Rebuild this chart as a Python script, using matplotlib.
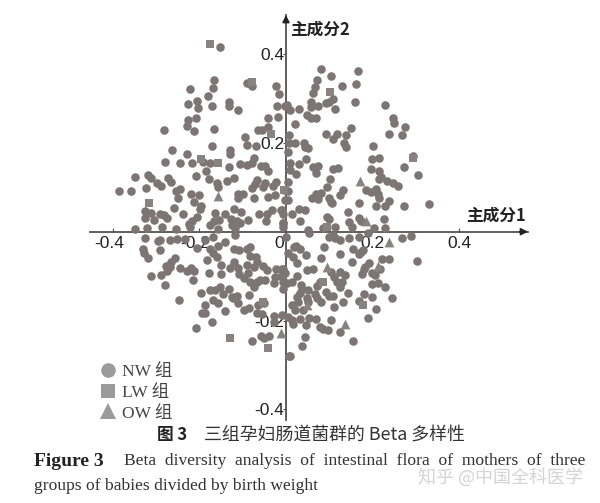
import numpy as np
import matplotlib
matplotlib.use("Agg")
import matplotlib.pyplot as plt
from matplotlib.transforms import ScaledTranslation

# Values are (component 1, component 2)
nw_upper_left = [(-.152,.415),(-.166,.341),(-.221,.322),(-.169,.323),(-.180,.305),(-.227,.287),(-.205,.295),(-.203,.278),(-.172,.284),
(-.131,.293),(-.131,.284),(-.112,.274),(-.089,.334),(-.078,.328),(-.024,.329),(-.016,.309),(-.020,.284),(-.002,.284),(-.018,.259),
(-.042,.256),(-.208,.256),(-.226,.251),(-.229,.238),(-.213,.227),(-.283,.228),(-.167,.231),(-.064,.230),(-.055,.229),(-.041,.236),
(-.095,.214),(-.089,.196),(-.070,.193),(-.170,.194),(-.129,.185),(-.130,.174),(-.264,.183),(-.229,.174),(-.279,.158),(-.244,.155),
(-.218,.155),(-.191,.158),(-.175,.154),(-.184,.137),(-.131,.146),(-.106,.152),(-.089,.151),(-.075,.165),(-.079,.154),(-.057,.147),
(-.048,.148),(-.042,.137),(-.350,.123),(-.320,.127),(-.312,.122),(-.272,.121),(-.265,.112),(-.209,.125),(-.177,.119),(-.121,.121),
(-.136,.114),(-.159,.110),(-.158,.101),(-.297,.110),(-.289,.104),(-.387,.091),(-.358,.091),(-.323,.098),(-.246,.097),(-.254,.091),
(-.250,.075),(-.220,.085),(-.200,.083),(-.212,.067),(-.196,.059),(-.199,.052),(-.259,.054),(-.237,.040),(-.112,.086),(-.099,.086),
(-.110,.075),(-.073,.077),(-.079,.098),(-.067,.117),(-.072,.107),(-.049,.110),(-.054,.101),(-.031,.104),(-.024,.112),(-.025,.082),
(-.042,.078),(-.005,.095),(-.002,.071),(-.326,.047),(-.312,.043),(-.326,.032),(-.305,.026),(-.291,.040),(-.282,.037),(-.275,.031),
(-.164,.043),(-.141,.039),(-.119,.051),(-.105,.044),(-.206,.033),(-.218,.023),(-.223,.017),(-.175,.015),(-.167,.023),(-.154,.026),
(-.128,.028),(-.114,.023),(-.106,.019),(-.125,.015),(-.087,.026),(-.062,.039),(-.043,.041),(-.033,.048),(-.012,.050),(-.008,.039),
(-.045,.023),(-.008,.020),(-.006,.011),(-.350,.007),(-.322,.009),(-.287,.010),(-.254,.005),(-.222,.010),(-.156,.005),(-.118,.008)]
nw_upper_right = [(.082,.367),(.104,.351),(.166,.363),(.071,.341),(.129,.328),(.163,.332),(.066,.325),(.062,.313),(.109,.299),(.159,.293),
(.230,.286),(.058,.293),(.057,.280),(.073,.284),(.092,.289),(.100,.292),(.114,.276),(.003,.285),(.009,.273),(.031,.277),(.049,.262),
(.058,.256),(.069,.255),(.022,.242),(.248,.257),(.250,.244),(.275,.236),(.151,.233),(.239,.220),(.269,.218),(.092,.219),(.117,.221),
(.109,.208),(.138,.218),(.135,.199),(.139,.191),(.202,.193),(.006,.217),(.006,.199),(.022,.200),(.042,.200),(.045,.191),(.052,.189),
(.005,.180),(.047,.164),(.198,.164),(.216,.167),(.293,.171),(.009,.154),(.029,.152),(.063,.146),(.074,.149),(.009,.139),(.023,.131),
(.069,.133),(.108,.142),(.120,.143),(.196,.141),(.273,.145),(.306,.128),(.216,.136),(.219,.124),(.216,.118),(.234,.115),(.248,.109),
(.259,.104),(.102,.119),(.005,.112),(.095,.101),(.132,.094),(.186,.095),(.196,.089),(.209,.096),(.212,.085),(.214,.077),(.125,.082),
(.080,.088),(.069,.086),(.061,.077),(.075,.074),(.099,.077),(.104,.068),(.107,.064),(.005,.092),(.005,.071),(.168,.064),(.238,.070),
(.229,.058),(.207,.058),(.273,.057),(.331,.062),(.031,.052),(.045,.050),(.013,.040),(-.010,.049),(.143,.045),(.032,.023),(.100,.029),
(.094,.033),(.146,.022),(.169,.032),(.173,.025),(.226,.028),(-.006,.020),(.114,.010),(.152,.011),(.204,.008),(.229,.008),(.052,.004),(.086,.008)]
nw_lower_left = [(-.326,-.014),(-.291,-.019),(-.295,-.021),(-.268,-.018),(-.251,-.017),(-.233,-.017),(-.331,-.040),(-.328,-.049),(-.318,-.059),
(-.292,-.041),(-.205,-.036),(-.187,-.019),(-.156,-.032),(-.141,-.023),(-.168,-.011),(-.118,-.008),(-.120,-.040),(-.109,-.042),(-.083,-.034),
(-.089,-.038),(-.176,-.038),(-.168,-.049),(-.159,-.058),(-.183,-.063),(-.256,-.060),(-.266,-.069),(-.277,-.077),(-.268,-.080),(-.274,-.089),
(-.290,-.098),(-.313,-.099),(-.280,-.119),(-.244,-.082),(-.229,-.088),(-.219,-.081),(-.213,-.089),(-.214,-.109),(-.179,-.092),(-.151,-.074),
(-.151,-.095),(-.121,-.068),(-.129,-.081),(-.110,-.081),(-.109,-.096),(-.097,-.105),(-.089,-.075),(-.082,-.054),(-.070,-.056),(-.066,-.068),
(-.075,-.079),(-.087,-.094),(-.082,-.113),(-.075,-.124),(-.068,-.113),(-.059,-.109),(-.048,-.109),(-.052,-.077),(-.043,-.086),(-.022,-.083),
(-.010,-.084),(-.025,-.101),(-.028,-.116),(-.010,-.098),(-.008,-.129),(.002,-.116),(-.196,-.139),(-.175,-.131),(-.164,-.131),(-.152,-.124),
(-.132,-.128),(-.247,-.153),(-.146,-.141),(-.168,-.154),(-.158,-.161),(-.125,-.146),(-.114,-.144),(-.122,-.149),(-.110,-.161),(-.085,-.143),
(-.188,-.165),(-.195,-.182),(-.187,-.182),(-.141,-.179),(-.098,-.176),(-.085,-.171),(-.064,-.164),(-.051,-.161),(-.068,-.182),(-.056,-.186),
(-.171,-.203),(-.208,-.216),(-.027,-.189),(-.010,-.188),(-.027,-.203),(-.058,-.234),(-.051,-.240),(-.039,-.235),(-.078,-.246),(.006,-.279)]
nw_lower_right = [(0,-.011),(.053,-.002),(.100,-.011),(.109,-.008),(.113,-.015),(.126,-.018),(.146,-.014),(.169,-.011),(.189,-.004),(.268,-.014),
(.290,-.009),(.023,-.032),(.032,-.039),(.018,-.034),(.088,-.034),(.155,-.039),(.179,-.042),(.173,-.045),(.169,-.051),(.005,-.047),(.017,-.058),
(.025,-.071),(.046,-.053),(.082,-.060),(.126,-.051),(.152,-.069),(.193,-.070),(.182,-.079),(.180,-.084),(.222,-.062),(.238,-.062),(.304,-.067),
(.048,-.086),(.062,-.084),(-.008,-.084),(-.002,-.094),(-.010,-.101),(.025,-.100),(.014,-.113),(-.006,-.114),(.034,-.119),(.036,-.128),(.032,-.139),
(.052,-.131),(.071,-.122),(.079,-.114),(.105,-.090),(.111,-.101),(.125,-.090),(.136,-.098),(.117,-.113),(.129,-.113),(.125,-.124),(.175,-.096),
(.198,-.094),(.206,-.098),(.217,-.084),(.199,-.117),(.213,-.116),(.228,-.125),(.092,-.135),(.100,-.144),(.109,-.144),(.143,-.137),(.180,-.140),
(.198,-.146),(.246,-.150),(.067,-.141),(.071,-.150),(.080,-.158),(.026,-.146),(.048,-.150),(.052,-.159),(.028,-.159),(.015,-.165),(.021,-.176),
(.040,-.176),(.112,-.169),(.132,-.159),(.169,-.156),(.209,-.173),(.189,-.194),(.005,-.191),(.013,-.199),(.017,-.208),(.032,-.197),(.054,-.195),
(.069,-.197),(.046,-.209),(.079,-.214),(.085,-.218),(.098,-.222),(.104,-.199),(.126,-.226),(.156,-.246),(.045,-.237),(.038,-.257),(.009,-.280)]
lw_points = [(-.175,.423),(-.078,.338),(-.035,.221),(-.197,.164),(-.158,.154),(-.316,.065),(.102,.314),(.294,.167),(-.005,.095),(.094,.011),
(-.129,-.239),(-.042,-.261),(-.052,-.159),(.086,-.114),(.177,-.165)]
ow_points = [(-.158,.081),(.171,.115),(.185,.023),(.239,-.024),(-.012,-.227),(.094,-.079),(.212,-.077),(.136,-.207),(.048,-.164)]

x_ticks = [-0.4, -0.2, 0.2, 0.4]
x_tick_labels = ["-0.4", "-0.2", "0.2", "0.4"]
y_ticks = [-0.4, -0.2, 0.2, 0.4]
y_tick_labels = ["-0.4", "-0.2", "0.2", "0.4"]
group_labels = ["NW 组", "LW 组", "OW 组"]

SERIF = ["Liberation Serif", "Noto Sans CJK SC"]
CJK = ["Noto Sans CJK SC", "Liberation Serif"]
AXC = "#555050"

fig = plt.figure(figsize=(6, 5.03), dpi=100)
ax = fig.add_axes([90/600, 83/503, 438/600, 405/503])
ax.set_xlim(-.453, .5595)
ax.set_ylim(-.424, .488)
ax.patch.set_visible(False)
for s in ("top", "right"):
    ax.spines[s].set_visible(False)
ax.spines["left"].set_position(("data", 0))
ax.spines["bottom"].set_position(("data", 0))
for s in ("left", "bottom"):
    ax.spines[s].set_color(AXC)
    ax.spines[s].set_linewidth(1.3)
ax.set_xticks(x_ticks, x_tick_labels, fontsize=12.5, family="Liberation Sans", color="#222222")
ax.set_yticks(y_ticks, y_tick_labels, fontsize=12.5, family="Liberation Sans", color="#222222")
ax.tick_params(axis="x", direction="in", length=3, width=0.8, color=AXC, pad=3)
ax.tick_params(axis="y", direction="out", length=2, width=0.8, color=AXC, pad=-1)
shift = ScaledTranslation(-4/100, 0, fig.dpi_scale_trans)
for lab, val in zip(ax.get_xticklabels(), x_ticks):
    if val < 0:
        lab.set_transform(lab.get_transform() + shift)
ax.text(-0.016, -0.010, "0", ha="center", va="top", fontsize=12.5, family="Liberation Sans", color="#222222")

ax.annotate("", xy=(1.0, 0), xycoords=("axes fraction", "data"), xytext=(0.98, 0), textcoords=("axes fraction", "data"),
            arrowprops=dict(arrowstyle="-|>", color="#222222", lw=1, mutation_scale=11, shrinkA=0, shrinkB=0))
ax.annotate("", xy=(0, 1.0), xycoords=("data", "axes fraction"), xytext=(0, 0.98), textcoords=("data", "axes fraction"),
            arrowprops=dict(arrowstyle="-|>", color="#222222", lw=1, mutation_scale=11, shrinkA=0, shrinkB=0))

nw = np.array(nw_upper_left + nw_upper_right + nw_lower_left + nw_lower_right)
lw = np.array(lw_points)
ow = np.array(ow_points)
ax.scatter(nw[:, 0], nw[:, 1], s=38, marker="o", color="#7c7475", linewidths=0, zorder=3, clip_on=False)
ax.scatter(lw[:, 0], lw[:, 1], s=36, marker="s", color="#888282", linewidths=0, zorder=3, clip_on=False)
ax.scatter(ow[:, 0], ow[:, 1], s=50, marker="^", color="#888282", linewidths=0, zorder=3, clip_on=False)

h = [plt.Line2D([], [], ls="", marker="o", ms=10.5, mfc="#9b9b9b", mew=0),
     plt.Line2D([], [], ls="", marker="s", ms=10.5, mfc="#9b9b9b", mew=0),
     plt.Line2D([], [], ls="", marker="^", ms=11.5, mfc="#9b9b9b", mew=0)]
fig.legend(h, group_labels, loc="upper left", bbox_to_anchor=(86/600, 1-355/503), frameon=False, borderpad=0,
           labelspacing=0.27, handletextpad=0.1, handlelength=1.5,
           prop={"family": SERIF, "size": 12.5}, labelcolor="#444444")

fig.text(466/600, 1-216/503, "主成分1", family=CJK, weight="bold", fontsize=12, va="center", color="#222222")
fig.text(290/600, 1-30/503, "主成分2", family=CJK, weight="bold", fontsize=12, va="center", color="#222222")

fig.text(157/600, 1-435/503, "图 3", family=CJK, weight="bold", fontsize=12, va="center", color="#222222")
fig.text(204/600, 1-435/503, "三组孕妇肠道菌群的 Beta 多样性", family=CJK, fontsize=12.9, va="center", color="#333333")
fig.text(34/600, 1-461/503, "Figure 3", family="Liberation Serif", weight="bold", fontsize=14, va="center", color="#222222")
fig.text(124/600, 1-461/503, "Beta  diversity  analysis  of  intestinal  flora  of  mothers  of  three", family="Liberation Serif",
         fontsize=12.6, va="center", color="#333333")
fig.text(34/600, 1-486/503, "groups of babies divided by birth weight", family="Liberation Serif",
         fontsize=12.6, va="center", color="#333333")
fig.text(418/600, 1-477/503, "知乎 @中国全科医学", family=CJK, fontsize=13, va="center", color="#d4d4d4")

fig.savefig("out.png", dpi=100)
